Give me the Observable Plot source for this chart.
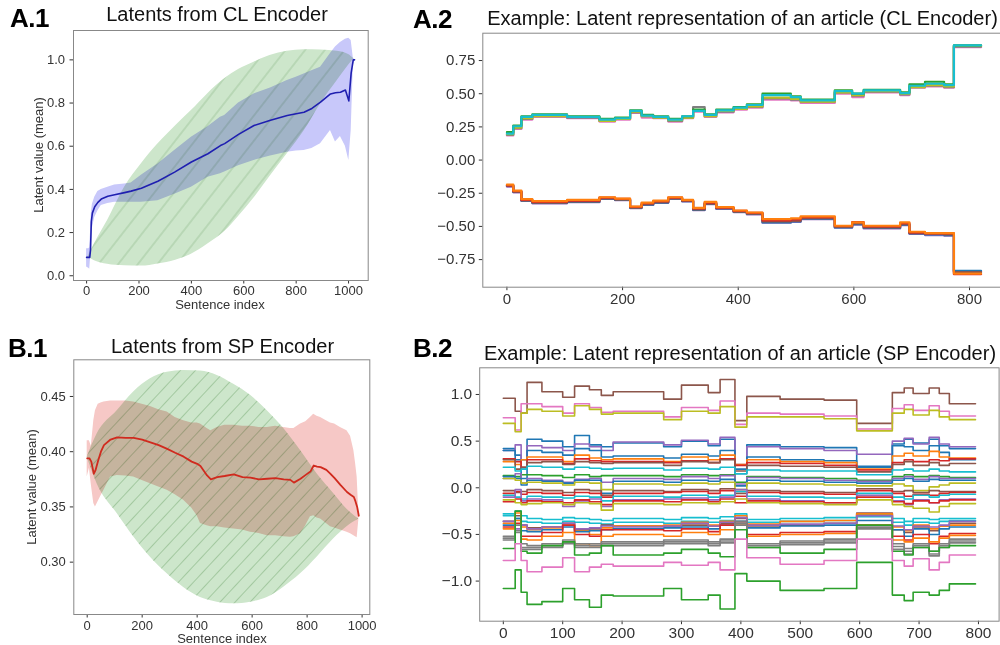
<!DOCTYPE html>
<html><head><meta charset="utf-8">
<script src="https://cdn.jsdelivr.net/npm/d3@7"></script>
<script src="https://cdn.jsdelivr.net/npm/@observablehq/plot@0.6"></script>
<style>
html,body{margin:0;padding:0;background:#fff;overflow:hidden;}
#page{position:relative;width:1000px;height:645px;overflow:hidden;background:#fff;font-family:"Liberation Sans",Arial,sans-serif;color:#111;}
.title{position:absolute;width:600px;font-size:20px;line-height:20px;white-space:nowrap;text-align:center;color:#111;}
.tag{position:absolute;font-size:26px;line-height:26px;font-weight:bold;letter-spacing:-0.5px;color:#000;}
.xlab{position:absolute;font-size:13px;line-height:13px;white-space:nowrap;color:#333;transform:translateX(-50%);}
.ylab{position:absolute;font-size:13px;line-height:13px;white-space:nowrap;color:#333;transform:translate(-50%,-50%) rotate(-90deg);}
</style></head>
<body><div id="page">
<svg width="0" height="0" style="position:absolute"><defs>
<pattern id="hatchA" patternUnits="userSpaceOnUse" width="15.5" height="15.5" patternTransform="rotate(38)"><line x1="7.75" y1="-1" x2="7.75" y2="16.5" stroke="#6fa36b" stroke-opacity="0.5" stroke-width="0.9"/></pattern>
<pattern id="hatchB" patternUnits="userSpaceOnUse" width="11" height="11" patternTransform="rotate(43)"><line x1="5.5" y1="-1" x2="5.5" y2="12" stroke="#6fa36b" stroke-opacity="0.5" stroke-width="0.9"/></pattern>
</defs></svg>
<div class="tag" style="left:10px;top:4.7px">A.1</div>
<div class="tag" style="left:413px;top:6.3px">A.2</div>
<div class="tag" style="left:8px;top:334.7px">B.1</div>
<div class="tag" style="left:413px;top:334.7px">B.2</div>
<div class="title" style="left:-83px;top:4px">Latents from CL Encoder</div>
<div class="title" style="left:442.5px;top:8px">Example: Latent representation of an article (CL Encoder)</div>
<div class="title" style="left:-77.5px;top:336.4px">Latents from SP Encoder</div>
<div class="title" style="left:440px;top:343px">Example: Latent representation of an article (SP Encoder)</div>
<div class="xlab" style="left:220px;top:297.5px">Sentence index</div>
<div class="xlab" style="left:222px;top:632px">Sentence index</div>
<div class="ylab" style="left:38px;top:155px">Latent value (mean)</div>
<div class="ylab" style="left:31px;top:487px">Latent value (mean)</div>
</div>
<script>
// ---------- A.1 : CL encoder latents ----------
const a1X    = [0, 8, 12, 15, 18, 22, 31, 43, 56, 81, 107, 145, 170, 209, 272, 336, 400, 463, 511, 527, 580, 639, 702, 766, 800, 830, 860, 893, 931, 950, 969, 988, 1001, 1010, 1018, 1023];
const a1Hi   = [0.125,0.125,0.13,0.20,0.29, 0.33,0.364,0.39,0.40,0.41, 0.42,0.425,0.43,0.465,0.518, 0.58,0.642,0.69,0.734,0.742, 0.80,0.842,0.87,0.904,0.92, 0.935,0.95,0.966,1.03,1.06, 1.08,1.095,1.10,1.09,1.01, 1.0];
const a1Lo   = [0.04,0.035,0.03,0.08,0.148, 0.22,0.27,0.30,0.325,0.335, 0.34,0.34,0.34,0.34,0.347, 0.378,0.41,0.456,0.472,0.48, 0.51,0.534,0.555,0.572,0.578, 0.58,0.59,0.611,0.673,0.62, 0.645,0.60,0.534,0.67,0.97, 1.0];
const a1Mean = [0.085,0.085,0.085,0.12,0.25, 0.29,0.32,0.34,0.355,0.368, 0.375,0.385,0.392,0.405,0.438, 0.48,0.527,0.565,0.603,0.612, 0.655,0.696,0.72,0.742,0.75, 0.757,0.775,0.804,0.842,0.848, 0.85,0.86,0.81,0.94,1.0, 1.0];
const a1LensX  = [5, 30, 80, 145, 210, 272, 340, 400, 460, 527, 580, 639, 700, 766, 830, 893, 957, 1000, 1020];
const a1LensHi = [0.086,0.148,0.256,0.41,0.52,0.61,0.695,0.765,0.84,0.912,0.955,0.989,1.02,1.04,1.047,1.046,1.04,1.025,1.005];
const a1LensLo = [0.086,0.07,0.053,0.046,0.045,0.055,0.072,0.10,0.145,0.205,0.275,0.36,0.46,0.565,0.67,0.796,0.904,0.975,1.005];
const a1XTicks = [0, 200, 400, 600, 800, 1000];
const a1YTicks = [0, 0.2, 0.4, 0.6, 0.8, 1.0];

// ---------- B.1 : SP encoder latents ----------
const b1X    = [0, 8, 15, 24, 30, 40, 50, 61, 85, 109, 140, 169, 200, 230, 260, 291, 320, 351, 380, 400, 412, 436, 450, 473, 500, 533, 565, 594, 625, 655, 685, 715, 739, 752, 776, 795, 812, 824, 836, 849, 870, 885, 900, 921, 945, 958, 970, 976, 982, 988];
const b1Hi   = [0.410,0.410,0.405,0.428,0.437, 0.443,0.444,0.445,0.446,0.446, 0.446,0.445,0.443,0.441,0.438, 0.436,0.431,0.428,0.426,0.426, 0.425,0.421,0.419,0.422,0.424, 0.424,0.423,0.423,0.422,0.422, 0.423,0.422,0.421,0.421,0.425, 0.427,0.431,0.434,0.432,0.431, 0.428,0.426,0.425,0.422,0.419, 0.414,0.401,0.390,0.377,0.345];
const b1Lo   = [0.377,0.385,0.370,0.353,0.350, 0.355,0.360,0.365,0.377,0.3785, 0.378,0.377,0.374,0.371,0.368, 0.365,0.361,0.356,0.349,0.342, 0.335,0.333,0.332,0.332,0.331, 0.330,0.329,0.327,0.326,0.324, 0.324,0.323,0.3225,0.323,0.3256, 0.333,0.341,0.342,0.340,0.339, 0.335,0.332,0.331,0.329,0.327, 0.3256,0.324,0.323,0.322,0.338];
const b1Mean = [0.394,0.394,0.391,0.380,0.383, 0.392,0.400,0.406,0.411,0.413, 0.4125,0.4125,0.411,0.4085,0.406, 0.4025,0.399,0.3955,0.391,0.389, 0.387,0.3785,0.375,0.377,0.378, 0.3795,0.377,0.3765,0.375,0.3755, 0.376,0.375,0.3745,0.372,0.3755, 0.379,0.382,0.3875,0.3865,0.386, 0.3835,0.380,0.376,0.370,0.3635, 0.361,0.359,0.355,0.350,0.342];
const b1LensX  = [0, 36, 109, 169, 230, 291, 351, 412, 473, 533, 594, 655, 715, 776, 836, 897, 945, 988];
const b1LensHi = [0.395,0.416,0.437,0.454,0.466,0.472,0.4735,0.473,0.469,0.461,0.451,0.437,0.421,0.401,0.38,0.362,0.348,0.339];
const b1LensLo = [0.395,0.371,0.344,0.323,0.3045,0.2894,0.277,0.268,0.2638,0.2623,0.2638,0.268,0.2773,0.2894,0.3045,0.3211,0.332,0.339];
const b1XTicks = [0, 200, 400, 600, 800, 1000];
const b1YTicks = [0.30, 0.35, 0.40, 0.45];

// ---------- A.2 : example article, CL encoder (step lines) ----------
const a2Steps = [0, 11, 25, 44, 104, 160, 187, 213, 233, 253, 279, 303, 322, 342, 362, 392, 415, 442, 491, 508, 567, 597, 617, 680, 696, 723, 756, 773, 820];
const a2Colors = ["#e377c2","#7f7f7f","#bcbd22","#2ca02c","#17becf", "#9467bd","#1f77b4","#8c564b","#d62728","#ff7f0e"];
const a2Values = [
  [0.185,0.235,0.305,0.325,0.315,0.29,0.305,0.355,0.32,0.315,0.29,0.315,0.365,0.325,0.36,0.38,0.395,0.455,0.45,0.43,0.50,0.475,0.51,0.49,0.545,0.555,0.545,0.85],
  [0.19,0.24,0.31,0.33,0.32,0.295,0.31,0.36,0.33,0.32,0.295,0.32,0.40,0.33,0.365,0.385,0.40,0.465,0.455,0.44,0.51,0.485,0.515,0.495,0.55,0.56,0.55,0.855],
  [0.195,0.245,0.315,0.33,0.325,0.295,0.31,0.365,0.33,0.32,0.30,0.32,0.375,0.33,0.37,0.385,0.405,0.47,0.46,0.44,0.51,0.49,0.52,0.50,0.55,0.565,0.555,0.86],
  [0.21,0.26,0.33,0.345,0.33,0.31,0.32,0.375,0.34,0.33,0.31,0.33,0.38,0.345,0.38,0.40,0.42,0.50,0.48,0.455,0.525,0.50,0.53,0.51,0.57,0.59,0.57,0.865],
  [0.20,0.255,0.325,0.34,0.325,0.305,0.315,0.37,0.335,0.325,0.305,0.33,0.37,0.34,0.375,0.395,0.415,0.49,0.475,0.45,0.52,0.50,0.525,0.505,0.56,0.575,0.565,0.865],
  [-0.20,-0.243,-0.308,-0.326,-0.318,-0.292,-0.302,-0.362,-0.338,-0.322,-0.292,-0.312,-0.378,-0.332,-0.368,-0.392,-0.41,-0.472,-0.465,-0.445,-0.51,-0.486,-0.515,-0.49,-0.556,-0.565,-0.57,-0.84],
  [-0.195,-0.24,-0.305,-0.323,-0.315,-0.29,-0.30,-0.36,-0.336,-0.32,-0.29,-0.31,-0.375,-0.33,-0.365,-0.39,-0.406,-0.47,-0.462,-0.442,-0.508,-0.482,-0.512,-0.487,-0.553,-0.56,-0.565,-0.835],
  [-0.193,-0.238,-0.303,-0.32,-0.312,-0.288,-0.298,-0.358,-0.333,-0.318,-0.288,-0.308,-0.372,-0.328,-0.362,-0.388,-0.403,-0.462,-0.458,-0.438,-0.503,-0.478,-0.508,-0.483,-0.55,-0.555,-0.56,-0.845],
  [-0.19,-0.235,-0.30,-0.315,-0.305,-0.283,-0.293,-0.352,-0.325,-0.31,-0.283,-0.302,-0.365,-0.32,-0.358,-0.383,-0.398,-0.455,-0.448,-0.43,-0.497,-0.468,-0.50,-0.475,-0.545,-0.552,-0.553,-0.86],
  [-0.185,-0.23,-0.295,-0.31,-0.30,-0.28,-0.29,-0.35,-0.32,-0.305,-0.28,-0.30,-0.36,-0.315,-0.355,-0.38,-0.395,-0.445,-0.44,-0.425,-0.495,-0.47,-0.495,-0.47,-0.54,-0.55,-0.55,-0.855]
];
const a2XTicks = [0, 200, 400, 600, 800];
const a2YTicks = [-0.75, -0.5, -0.25, 0, 0.25, 0.5, 0.75];

// ---------- B.2 : example article, SP encoder (step lines) ----------
const b2Steps = [0, 20, 30, 40, 65, 100, 120, 145, 165, 185, 270, 300, 345, 365, 390, 410, 466, 540, 595, 655, 675, 690, 717, 734, 751, 795];
const b2Colors = ["#8c564b","#e377c2","#bcbd22","#1f77b4","#9467bd","#1f77b4","#ff7f0e","#d62728","#8c564b","#17becf","#2ca02c","#9467bd","#1f77b4","#bcbd22",
  "#8c564b","#d62728","#17becf","#9467bd","#d62728","#bcbd22",
  "#17becf","#17becf","#8c564b","#ff7f0e","#1f77b4","#9467bd","#d62728","#ff7f0e","#7f7f7f","#7f7f7f","#7f7f7f","#2ca02c","#e377c2","#2ca02c"];
const b2Values = [
  [0.96,0.82,0.80,1.13,1.03,0.97,1.09,1.05,0.99,1.03,0.95,1.10,1.02,1.16,0.72,0.98,0.95,0.94,0.69,1.02,1.07,1.01,1.07,1.01,0.90],
  [0.75,0.62,0.90,0.90,0.87,0.80,0.90,0.86,0.81,0.82,0.76,0.86,0.83,0.93,0.68,0.80,0.79,0.77,0.63,0.85,0.89,0.83,0.88,0.82,0.77],
  [0.69,0.60,0.80,0.84,0.82,0.77,0.88,0.84,0.79,0.80,0.73,0.82,0.80,0.87,0.65,0.76,0.76,0.74,0.61,0.80,0.84,0.78,0.83,0.76,0.73],
  [0.42,0.35,0.30,0.52,0.50,0.44,0.56,0.46,0.44,0.48,0.44,0.50,0.45,0.52,0.20,0.46,0.44,0.43,0.22,0.47,0.52,0.48,0.52,0.45,0.42],
  [0.40,0.46,0.20,0.45,0.43,0.40,0.47,0.44,0.40,0.49,0.46,0.51,0.47,0.54,0.25,0.44,0.42,0.40,0.36,0.50,0.53,0.47,0.54,0.47,0.44],
  [0.40,0.30,0.10,0.40,0.38,0.35,0.42,0.40,0.33,0.34,0.32,0.36,0.34,0.40,0.15,0.33,0.30,0.29,0.23,0.45,0.44,0.40,0.45,0.38,0.30],
  [0.28,0.25,0.30,0.33,0.33,0.28,0.35,0.32,0.30,0.31,0.28,0.33,0.30,0.35,0.25,0.30,0.28,0.27,0.20,0.34,0.37,0.34,0.39,0.33,0.32],
  [0.31,0.28,0.22,0.30,0.30,0.26,0.31,0.29,0.28,0.28,0.27,0.29,0.27,0.31,0.24,0.27,0.26,0.24,0.19,0.27,0.30,0.28,0.30,0.29,0.31],
  [0.30,0.20,0.22,0.27,0.28,0.25,0.28,0.27,0.26,0.27,0.24,0.28,0.27,0.30,0.18,0.24,0.23,0.22,0.17,0.25,0.28,0.24,0.27,0.24,0.26],
  [0.22,0.18,0.20,0.23,0.22,0.20,0.22,0.21,0.20,0.21,0.19,0.21,0.20,0.22,0.15,0.19,0.18,0.18,0.14,0.19,0.20,0.18,0.20,0.18,0.17],
  [0.13,0.12,0.14,0.14,0.13,0.11,0.14,0.12,0.13,0.13,0.12,0.14,0.13,0.14,0.06,0.12,0.11,0.10,0.08,0.12,0.14,0.12,0.13,0.12,0.11],
  [0.10,0.15,0.05,0.10,0.08,0.06,0.09,0.10,0.06,0.10,0.09,0.12,0.10,0.13,0.04,0.11,0.10,0.08,0.07,0.10,0.12,0.09,0.12,0.10,0.10],
  [0.12,0.10,0.03,0.08,0.07,0.05,0.08,0.08,-0.06,0.07,0.06,0.08,0.07,0.09,0.02,0.08,0.07,0.06,0.05,0.08,0.10,0.07,0.09,0.08,0.08],
  [0.10,0.08,0.05,0.06,0.05,0.03,0.06,0.05,-0.02,0.04,0.03,0.05,0.04,0.06,-0.02,0.05,0.04,0.03,0.02,0.04,0.02,-0.03,0.01,0.03,0.05],
  [-0.03,-0.05,-0.04,-0.02,-0.03,-0.05,-0.02,-0.03,-0.08,-0.03,-0.04,-0.02,-0.03,-0.01,-0.06,-0.03,-0.04,-0.05,-0.01,-0.04,-0.03,-0.05,-0.03,-0.04,-0.04],
  [-0.06,-0.04,-0.07,-0.05,-0.06,-0.08,-0.05,-0.06,-0.10,-0.06,-0.05,-0.04,-0.06,-0.03,-0.09,-0.05,-0.06,-0.07,-0.03,-0.06,-0.09,-0.07,-0.08,-0.06,-0.05],
  [-0.08,-0.10,-0.12,-0.09,-0.10,-0.11,-0.09,-0.10,-0.14,-0.09,-0.10,-0.08,-0.10,-0.08,-0.04,-0.09,-0.10,-0.11,-0.06,-0.10,-0.12,-0.08,-0.10,-0.08,-0.07],
  [-0.10,-0.02,-0.14,-0.12,-0.13,-0.20,-0.14,-0.12,-0.20,-0.13,-0.12,-0.11,-0.13,-0.10,-0.02,-0.12,-0.14,-0.16,-0.08,-0.14,-0.18,-0.13,-0.16,-0.13,-0.12],
  [-0.15,-0.12,-0.16,-0.14,-0.15,-0.16,-0.13,-0.15,-0.18,-0.14,-0.15,-0.13,-0.15,-0.12,-0.16,-0.14,-0.15,-0.16,-0.10,-0.15,-0.17,-0.14,-0.16,-0.14,-0.13],
  [-0.13,-0.16,-0.18,-0.17,-0.16,-0.18,-0.16,-0.17,-0.24,-0.17,-0.18,-0.16,-0.17,-0.15,-0.12,-0.16,-0.17,-0.18,-0.13,-0.18,-0.20,-0.22,-0.26,-0.20,-0.17],
  [-0.28,-0.25,-0.30,-0.33,-0.34,-0.32,-0.33,-0.34,-0.35,-0.33,-0.34,-0.32,-0.33,-0.31,-0.28,-0.34,-0.33,-0.32,-0.29,-0.33,-0.36,-0.33,-0.34,-0.33,-0.33],
  [-0.30,-0.33,-0.36,-0.37,-0.38,-0.36,-0.37,-0.38,-0.39,-0.37,-0.38,-0.36,-0.37,-0.35,-0.32,-0.37,-0.36,-0.35,-0.31,-0.37,-0.40,-0.37,-0.38,-0.36,-0.35],
  [-0.36,-0.30,-0.40,-0.43,-0.42,-0.38,-0.45,-0.44,-0.40,-0.41,-0.42,-0.40,-0.41,-0.38,-0.33,-0.42,-0.40,-0.38,-0.27,-0.45,-0.48,-0.42,-0.46,-0.41,-0.38],
  [-0.38,-0.27,-0.42,-0.45,-0.43,-0.40,-0.46,-0.50,-0.43,-0.41,-0.40,-0.37,-0.40,-0.36,-0.30,-0.39,-0.36,-0.35,-0.28,-0.42,-0.46,-0.40,-0.44,-0.41,-0.40],
  [-0.40,-0.33,-0.46,-0.47,-0.45,-0.42,-0.47,-0.46,-0.45,-0.44,-0.43,-0.42,-0.44,-0.40,-0.36,-0.43,-0.41,-0.40,-0.35,-0.45,-0.52,-0.44,-0.50,-0.44,-0.42],
  [-0.36,-0.44,-0.40,-0.44,-0.42,-0.38,-0.44,-0.43,-0.41,-0.42,-0.41,-0.38,-0.41,-0.37,-0.32,-0.40,-0.39,-0.38,-0.30,-0.41,-0.45,-0.41,-0.42,-0.40,-0.36],
  [-0.42,-0.38,-0.52,-0.52,-0.48,-0.40,-0.50,-0.52,-0.45,-0.45,-0.46,-0.44,-0.47,-0.40,-0.38,-0.50,-0.48,-0.47,-0.40,-0.52,-0.56,-0.50,-0.60,-0.52,-0.49],
  [-0.44,-0.35,-0.55,-0.56,-0.52,-0.48,-0.60,-0.62,-0.52,-0.50,-0.52,-0.48,-0.50,-0.45,-0.40,-0.52,-0.50,-0.49,-0.40,-0.56,-0.58,-0.54,-0.58,-0.54,-0.51],
  [-0.52,-0.40,-0.60,-0.62,-0.60,-0.56,-0.60,-0.60,-0.58,-0.58,-0.56,-0.56,-0.58,-0.55,-0.36,-0.60,-0.57,-0.55,-0.42,-0.60,-0.65,-0.60,-0.68,-0.60,-0.55],
  [-0.54,-0.46,-0.64,-0.64,-0.62,-0.58,-0.62,-0.62,-0.60,-0.60,-0.58,-0.58,-0.60,-0.57,-0.38,-0.62,-0.59,-0.57,-0.43,-0.63,-0.68,-0.62,-0.71,-0.62,-0.57],
  [-0.56,-0.48,-0.66,-0.66,-0.64,-0.60,-0.64,-0.64,-0.62,-0.62,-0.60,-0.60,-0.62,-0.59,-0.40,-0.64,-0.61,-0.59,-0.44,-0.66,-0.71,-0.64,-0.73,-0.64,-0.59],
  [-0.65,-0.25,-0.68,-0.70,-0.62,-0.58,-0.72,-0.70,-0.62,-0.72,-0.70,-0.66,-0.70,-0.74,-0.45,-0.64,-0.70,-0.66,-0.40,-0.68,-0.72,-0.64,-0.68,-0.64,-0.62],
  [-0.78,-0.60,-0.78,-0.90,-0.85,-0.75,-0.90,-0.85,-0.82,-0.84,-0.80,-0.83,-0.80,-0.88,-0.55,-0.75,-0.82,-0.78,-0.55,-0.78,-0.84,-0.76,-0.88,-0.80,-0.72],
  [-1.08,-0.88,-1.12,-1.25,-1.22,-1.08,-1.20,-1.28,-1.15,-1.16,-1.08,-1.20,-1.15,-1.30,-0.92,-1.00,-1.10,-1.08,-0.80,-1.15,-1.21,-1.12,-1.15,-1.10,-1.03]
];
const b2XTicks = [0, 100, 200, 300, 400, 500, 600, 700, 800];
const b2YTicks = [-1, -0.5, 0, 0.5, 1];

// ---------- build tables ----------
const rowsBand = (xs, lo, hi, m) => xs.map((x, i) => ({x, lo: lo[i], hi: hi[i], m: m ? m[i] : null}));
const rowsSteps = (steps, values, colors) => values.flatMap((v, s) =>
  steps.map((x, k) => ({x, y: v[Math.min(k, v.length - 1)], s, c: colors[s % colors.length]})));

const page = document.getElementById("page");
function place(el, left, top) { el.style.position = "absolute"; el.style.left = left + "px"; el.style.top = top + "px"; page.appendChild(el); }
const baseStyle = (fs) => ({background: "none", fontFamily: "'Liberation Sans', Arial, sans-serif", fontSize: fs + "px", color: "#333", overflow: "visible"});

const a1Band = rowsBand(a1X, a1Lo, a1Hi, a1Mean);
const a1Lens = rowsBand(a1LensX, a1LensLo, a1LensHi);
const A1 = Plot.plot({
  width: 380, height: 310, marginLeft: 73, marginRight: 12.3, marginTop: 30, marginBottom: 30,
  style: baseStyle(13),
  x: {domain: [-50, 1075], ticks: a1XTicks, tickFormat: d3.format("d"), tickSize: 3.5, tickPadding: 1.5, label: null},
  y: {domain: [-0.022, 1.136], ticks: a1YTicks, tickFormat: d3.format(".1f"), tickSize: 3.5, tickPadding: 5, label: null},
  marks: [
    Plot.areaY(a1Lens, {x: "x", y1: "lo", y2: "hi", fill: "#cde6cb", curve: "monotone-x"}),
    Plot.areaY(a1Lens, {x: "x", y1: "lo", y2: "hi", fill: "url(#hatchA)", curve: "monotone-x"}),
    Plot.areaY(a1Band, {x: "x", y1: "lo", y2: "hi", fill: "#c8c8fa", mixBlendMode: "multiply"}),
    Plot.line(a1Band, {x: "x", y: "m", stroke: "#1f1fb0", strokeWidth: 1.6}),
    Plot.frame({stroke: "#888"})
  ]
});
place(A1, 0, 0);

const b1Band = rowsBand(b1X, b1Lo, b1Hi, b1Mean);
const b1Lens = rowsBand(b1LensX, b1LensLo, b1LensHi);
const B1 = Plot.plot({
  width: 380, height: 315, marginLeft: 73.3, marginRight: 10.7, marginTop: 29.3, marginBottom: 31,
  style: baseStyle(13),
  x: {domain: [-48.7, 1028], ticks: b1XTicks, tickFormat: d3.format("d"), tickSize: 3.5, tickPadding: 2.5, label: null},
  y: {domain: [0.2526, 0.4832], ticks: b1YTicks, tickFormat: d3.format(".2f"), tickSize: 3.5, tickPadding: 4.5, label: null},
  marks: [
    Plot.areaY(b1Lens, {x: "x", y1: "lo", y2: "hi", fill: "#cde6cb", curve: "monotone-x"}),
    Plot.areaY(b1Lens, {x: "x", y1: "lo", y2: "hi", fill: "url(#hatchB)", curve: "monotone-x"}),
    Plot.areaY(b1Band, {x: "x", y1: "lo", y2: "hi", fill: "#f6c8c6", mixBlendMode: "multiply"}),
    Plot.line(b1Band, {x: "x", y: "m", stroke: "#d02a1e", strokeWidth: 1.8}),
    Plot.frame({stroke: "#888"})
  ]
});
place(B1, 0, 330);

const a2Rows = rowsSteps(a2Steps, a2Values, a2Colors);
const A2 = Plot.plot({
  width: 610, height: 310, marginLeft: 82.3, marginRight: 5.7, marginTop: 32.7, marginBottom: 23.3,
  style: baseStyle(15),
  color: {type: "identity"},
  x: {domain: [-41.7, 861], ticks: a2XTicks, tickFormat: d3.format("d"), tickSize: 3.5, tickPadding: 3, label: null},
  y: {domain: [-0.958, 0.956], ticks: a2YTicks, tickFormat: d3.format(".2f"), tickSize: 3.5, tickPadding: 4, label: null},
  marks: [
    Plot.line(a2Rows, {x: "x", y: "y", z: "s", stroke: "c", curve: "step-after", strokeWidth: 2.2}),
    Plot.frame({stroke: "#888"})
  ]
});
place(A2, 400, 0);

const b2Rows = rowsSteps(b2Steps, b2Values, b2Colors);
const B2 = Plot.plot({
  width: 610, height: 315, marginLeft: 79.2, marginRight: 11.4, marginTop: 37.3, marginBottom: 24.3,
  style: baseStyle(15.5),
  color: {type: "identity"},
  x: {domain: [-39.75, 834.75], ticks: b2XTicks, tickFormat: d3.format("d"), tickSize: 3.5, tickPadding: 2.5, label: null},
  y: {domain: [-1.43, 1.286], ticks: b2YTicks, tickFormat: d3.format(".1f"), tickSize: 3.5, tickPadding: 4, label: null},
  marks: [
    Plot.line(b2Rows, {x: "x", y: "y", z: "s", stroke: "c", curve: "step-after", strokeWidth: 1.6}),
    Plot.frame({stroke: "#888"})
  ]
});
place(B2, 400, 330);
</script>
</body></html>
